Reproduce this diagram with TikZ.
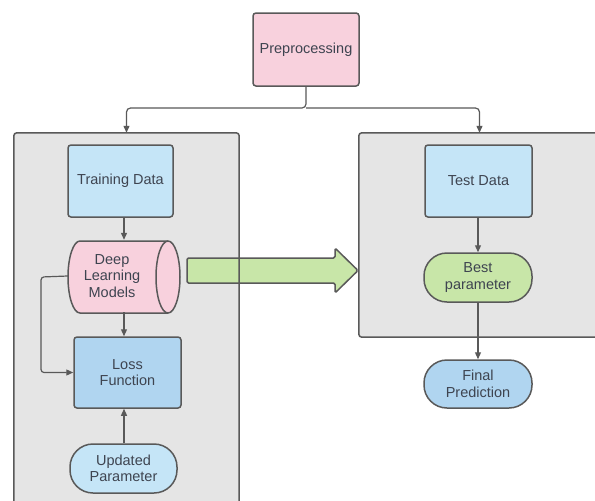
\documentclass[tikz,border=0pt]{standalone}
\usepackage{fontspec}
\setmainfont{Liberation Sans}
\usetikzlibrary{arrows.meta,calc}
\definecolor{pinkf}{HTML}{F8D1DD}
\definecolor{lblue}{HTML}{C5E5F7}
\definecolor{mblue}{HTML}{B0D5F0}
\definecolor{greenf}{HTML}{C8E6A8}
\definecolor{contf}{HTML}{E5E5E5}
\definecolor{edge}{HTML}{595959}
\definecolor{txt}{HTML}{3E4450}
\begin{document}
\begin{tikzpicture}[x=1pt,y=-1pt,
  every node/.style={font=\fontsize{14.5}{16.5}\selectfont, text=txt, align=center, inner sep=0pt},
  box/.style={draw=edge, line width=1.5pt, rounded corners=3pt},
  pill/.style={draw=edge, line width=1.5pt, rounded corners=23pt},
  cont/.style={fill=contf, draw=none, rounded corners=3pt},
  contline/.style={draw=edge, line width=1.5pt, rounded corners=3pt},
  arr/.style={draw=edge, line width=1.2pt, -{Triangle[width=6pt,length=7pt]}}
]
\clip (0,0) rectangle (595,501);
\fill[white] (0,0) rectangle (595,501);

% containers
\node[cont, minimum width=225pt, minimum height=387pt] (leftc) at (126.5,326.5) {};
\node[cont, minimum width=241pt, minimum height=204pt] (rightc) at (479.5,235) {};

% green arrow
\draw[fill=greenf, draw=edge, line width=1.5pt, line join=round, rounded corners=1.5pt]
  (187,258) -- (335,258) -- (335,248) -- (358,270.5) -- (335,293) -- (335,283) -- (187,283) -- cycle;

% container borders on top
\draw[contline] (leftc.south west) rectangle (leftc.north east);
\draw[contline] (rightc.south west) rectangle (rightc.north east);

% nodes
\node[box, fill=pinkf, minimum width=106pt, minimum height=73pt] (pre) at (306,49.5) {Preprocessing};
\node[box, fill=lblue, minimum width=105pt, minimum height=72pt] (td) at (120.5,181) {Training Data};

% cylinder
\draw[fill=pinkf, draw=edge, line width=1.5pt]
  (80,241) -- (168,241) arc(-90:90:12 and 36) -- (80,313) arc(90:270:12 and 36) -- cycle;
\draw[draw=edge, line width=1.5pt] (168,241) arc(-90:-270:12 and 36);
\node[minimum width=88pt, minimum height=72pt] (dlm) at (112,276) {Deep\\Learning\\Models};

\node[box, fill=mblue, minimum width=107pt, minimum height=71pt] (lf) at (127.5,372.5) {Loss\\Function};
\node[pill, fill=lblue, minimum width=107pt, minimum height=49pt] (up) at (123.5,468.5) {Updated\\Parameter};

\node[box, fill=lblue, minimum width=107pt, minimum height=72pt] (test) at (478.5,181) {Test Data};
\node[pill, fill=greenf, minimum width=108pt, minimum height=49pt] (best) at (478,277.5) {Best\\parameter};
\node[pill, fill=mblue, minimum width=108pt, minimum height=48pt] (fp) at (478,384) {Final\\Prediction};

% connectors
\coordinate (split) at (306,108);
\coordinate (axL) at (124,0);
\coordinate (fb) at (41,277);
\draw[arr, rounded corners=4pt] (pre.south) -- (split) -| (leftc.north);
\draw[arr, rounded corners=4pt] (split) -| (rightc.north);
\draw[arr] (td.south -| axL) -- (dlm.north -| axL);
\draw[arr] (dlm.south -| axL) -- (lf.north -| axL);
\draw[arr, rounded corners=3pt] (dlm.west) -- (fb) |- (lf.west);
\draw[arr] (up.north -| axL) -- (lf.south -| axL);
\draw[arr] (test.south -| best.north) -- (best.north);
\draw[arr] (best.south) -- (fp.north);
\end{tikzpicture}
\end{document}
